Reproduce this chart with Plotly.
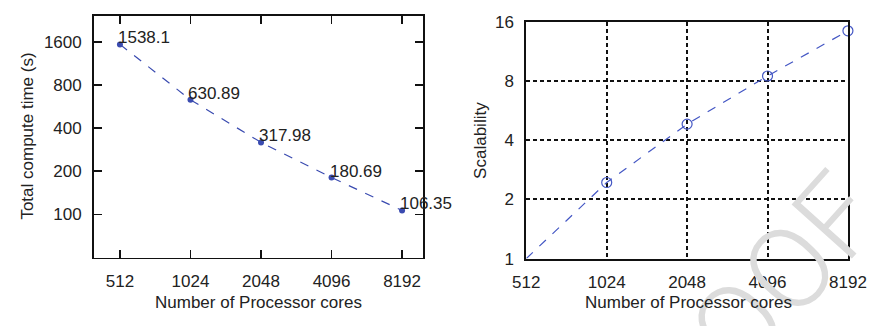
import plotly.graph_objects as go
import numpy as np

cores = [512, 1024, 2048, 4096, 8192]
core_labels = ["512", "1024", "2048", "4096", "8192"]
compute_time = [1538.1, 630.89, 317.98, 180.69, 106.35]
time_labels = ["1538.1", "630.89", "317.98", "180.69", "106.35"]
time_ticks = [100, 200, 400, 800, 1600]
scalability = [1.0, 2.44, 4.84, 8.51, 14.46]
scal_ticks = [1, 2, 4, 8, 16]

FONT = "Liberation Sans, Arial, sans-serif"
TXT = "#222222"
BLUE = "#3a4bb0"
BLUE2 = "#4457c4"
FS = 17

fig = go.Figure()

fig.add_trace(go.Scatter(
    x=cores, y=compute_time, mode="lines+markers",
    line=dict(color=BLUE, width=1.2, dash="dash"),
    marker=dict(color=BLUE, size=6),
    cliponaxis=False, xaxis="x", yaxis="y", showlegend=False, hoverinfo="skip"))

fig.add_trace(go.Scatter(
    x=cores, y=scalability, mode="lines+markers",
    line=dict(color=BLUE2, width=1.2, dash="dash"),
    marker=dict(color=BLUE2, size=10, symbol="circle-open",
                line=dict(color=BLUE2, width=1.2)),
    cliponaxis=False, xaxis="x2", yaxis="y2", showlegend=False, hoverinfo="skip"))

axfont = dict(family=FONT, size=FS, color=TXT)

annotations = [
    dict(text="PROOF", x=752/891, y=1-338/326, xref="paper", yref="paper",
         textangle=-48, showarrow=False, xanchor="center", yanchor="middle",
         font=dict(family="Roboto, Lato, sans-serif", size=114, color="#dcdcdc", weight=300)),
]
annotations += [
    dict(text=lab, x=np.log10(c), y=np.log10(v), xref="x", yref="y",
         xanchor="left", yanchor="bottom", xshift=-4, yshift=-5,
         showarrow=False, font=axfont)
    for c, v, lab in zip(cores, compute_time, time_labels)
]
annotations += [
    dict(text="Total compute time (s)", x=14/891, y=1-135/326, xref="paper", yref="paper",
         textangle=-90, showarrow=False, font=axfont, xanchor="center", yanchor="middle"),
    dict(text="Number of Processor cores", x=254/891, y=1-312/326, xref="paper", yref="paper",
         showarrow=False, font=axfont, xanchor="center", yanchor="middle"),
    dict(text="Scalability", x=485/891, y=1-140/326, xref="paper", yref="paper",
         textangle=-90, showarrow=False, font=axfont, xanchor="center", yanchor="middle"),
    dict(text="Number of Processor cores", x=700/891, y=1-312/326, xref="paper", yref="paper",
         showarrow=False, font=axfont, xanchor="center", yanchor="middle"),
]

fig.update_layout(
    width=891, height=326,
    margin=dict(l=0, r=0, t=0, b=0),
    paper_bgcolor="white", plot_bgcolor="white",
    font=axfont,
    xaxis=dict(domain=[83/891, 425/891], type="log",
               range=[np.log10(396.5), np.log10(10088)],
               tickvals=cores, ticktext=core_labels,
               ticks="inside", ticklen=8, tickwidth=1.5, tickcolor="#111",
               showline=True, linewidth=1.8, linecolor="#111", mirror="ticks",
               showgrid=False, zeroline=False, ticklabelstandoff=7,
               tickfont=axfont, anchor="y"),
    yaxis=dict(domain=[1-264/326, 1-7/326], type="log",
               range=[np.log10(49.8), np.log10(2445)],
               tickvals=time_ticks, ticktext=[str(t) for t in time_ticks],
               ticks="inside", ticklen=8, tickwidth=1.5, tickcolor="#111",
               showline=True, linewidth=1.8, linecolor="#111", mirror="ticks",
               showgrid=False, zeroline=False, ticklabelstandoff=7,
               tickfont=axfont, anchor="x"),
    xaxis2=dict(domain=[532/891, 866/891], type="log",
                range=[np.log10(512), np.log10(8192)],
                tickvals=cores, ticktext=core_labels,
                ticks="", showline=True, linewidth=2, linecolor="#111", mirror=True,
                showgrid=True, gridcolor="#111", gridwidth=2, griddash="4px,3px",
                zeroline=False, ticklabelstandoff=7,
                tickfont=axfont, anchor="y2"),
    yaxis2=dict(domain=[1-265/326, 1-14/326], type="log",
                range=[np.log10(1), np.log10(16)],
                tickvals=scal_ticks, ticktext=[str(t) for t in scal_ticks],
                ticks="", showline=True, linewidth=2, linecolor="#111", mirror=True,
                showgrid=True, gridcolor="#111", gridwidth=2, griddash="4px,3px",
                zeroline=False, ticklabelstandoff=7,
                tickfont=axfont, anchor="x2"),
    annotations=annotations,
)

fig.write_html("out.html",
               post_script="document.body.style.margin='0';document.body.style.overflow='hidden';",
               config={"displayModeBar": False, "staticPlot": True})
